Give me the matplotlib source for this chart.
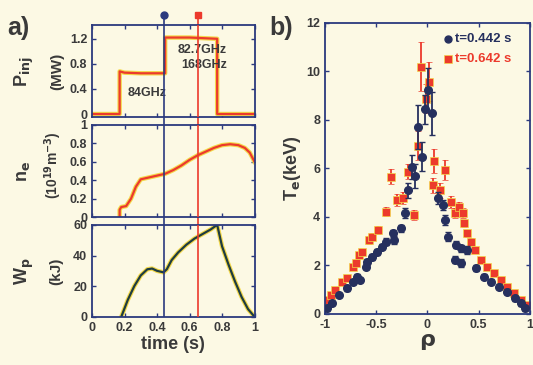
"""Two-panel figure: ECRH time traces (a) and Te profiles (b)."""

import matplotlib
matplotlib.use("Agg")
import matplotlib.pyplot as plt
import matplotlib.transforms as mtransforms
import numpy as np

plt.rcParams["font.family"] = ["Liberation Sans", "DejaVu Sans"]
plt.rcParams["font.weight"] = "bold"

BG = "#fcf9e4"
NAVY = "#2b3a7e"
RED = "#ec3a2c"
YEL = "#f3d84a"
TXT = "#3a3a3a"
DOT = "#26305e"

# ---- panel a data ----
t_pinj = [0.0, 0.17, 0.17, 0.20, 0.30, 0.45, 0.45, 0.60, 0.77, 0.77, 1.0]
p_inj = [0.0, 0.0, 0.68, 0.66, 0.65, 0.65, 1.22, 1.22, 1.20, 0.0, 0.0]

t_ne = [0.17, 0.17, 0.18, 0.21, 0.24, 0.27, 0.30, 0.35, 0.40, 0.45, 0.50,
        0.55, 0.60, 0.65, 0.70, 0.75, 0.80, 0.85, 0.90, 0.94, 0.97, 1.0]
n_e = [0.0, 0.08, 0.11, 0.12, 0.20, 0.33, 0.41, 0.43, 0.45, 0.47, 0.51,
       0.56, 0.62, 0.67, 0.71, 0.75, 0.78, 0.79, 0.78, 0.75, 0.70, 0.60]

t_wp = [0.18, 0.22, 0.26, 0.30, 0.34, 0.37, 0.40, 0.44, 0.46, 0.49, 0.53,
        0.58, 0.63, 0.68, 0.73, 0.77, 0.80, 0.84, 0.88, 0.92, 0.96, 1.0]
w_p = [0.0, 11, 20, 27, 31, 31.5, 30, 29, 31, 37, 42,
       47, 51, 54, 57, 60, 46, 34, 23, 13, 5, 0]

t_marks = [0.445, 0.65]

# ---- panel b data ----
rho_a = [-0.98, -0.93, -0.86, -0.79, -0.73, -0.69, -0.655, -0.605, -0.59, -0.54,
         -0.49, -0.445, -0.41, -0.34, -0.33, -0.26, -0.22, -0.19, -0.155, -0.12,
         -0.09, -0.058, -0.025, 0.01, 0.04, 0.10, 0.15, 0.17, 0.20, 0.265,
         0.28, 0.33, 0.33, 0.39, 0.475, 0.555, 0.62, 0.70, 0.78, 0.86,
         0.91, 0.95]
te_a = [0.23, 0.45, 0.78, 1.06, 1.33, 1.54, 1.40, 1.95, 2.15, 2.36,
        2.56, 2.78, 2.98, 3.33, 3.05, 3.53, 4.15, 5.10, 6.07, 5.70,
        7.72, 6.49, 8.44, 9.24, 8.27, 4.77, 4.50, 3.88, 3.19, 2.23,
        2.85, 2.70, 2.10, 2.64, 1.88, 1.54, 1.33, 1.13, 0.92, 0.65,
        0.44, 0.23]
err_a = [0.1, 0.1, 0.1, 0.1, 0.1, 0.1, 0.1, 0.1, 0.1, 0.12,
         0.12, 0.12, 0.15, 0.15, 0.15, 0.15, 0.2, 0.3, 0.5, 0.5,
         0.9, 0.6, 0.6, 0.9, 0.9, 0.25, 0.2, 0.2, 0.2, 0.15,
         0.15, 0.15, 0.15, 0.15, 0.12, 0.1, 0.1, 0.1, 0.1, 0.1,
         0.1, 0.1]

rho_b = [-0.99, -0.94, -0.90, -0.84, -0.79, -0.73, -0.70, -0.67, -0.64, -0.57,
         -0.54, -0.48, -0.41, -0.36, -0.30, -0.235, -0.19, -0.13, -0.09, -0.064,
         -0.016, 0.016, 0.055, 0.065, 0.12, 0.17, 0.23, 0.265, 0.31, 0.345,
         0.36, 0.39, 0.425, 0.46, 0.52, 0.585, 0.65, 0.72, 0.78, 0.85,
         0.91, 0.97]
te_b = [0.58, 0.78, 0.99, 1.33, 1.47, 1.95, 2.09, 2.43, 2.57, 3.05,
        3.19, 3.46, 4.22, 5.66, 4.70, 4.77, 5.87, 4.08, 6.94, 10.2,
        8.87, 9.58, 5.30, 6.32, 5.10, 5.94, 4.63, 4.15, 4.40, 4.15,
        3.74, 3.33, 2.98, 2.65, 2.23, 1.95, 1.68, 1.40, 1.13, 0.86,
        0.58, 0.37]
err_b = [0.1, 0.1, 0.1, 0.1, 0.1, 0.12, 0.12, 0.12, 0.12, 0.15,
         0.15, 0.15, 0.2, 0.3, 0.25, 0.25, 0.3, 0.2, 0.6, 1.0,
         0.6, 0.8, 0.3, 0.5, 0.3, 0.4, 0.25, 0.2, 0.2, 0.2,
         0.15, 0.15, 0.15, 0.12, 0.12, 0.1, 0.1, 0.1, 0.1, 0.1,
         0.1, 0.1]

labels_b = ["t=0.442 s", "t=0.642 s"]


def style_axis(ax):
    ax.set_facecolor(BG)
    for s in ax.spines.values():
        s.set_color(NAVY)
        s.set_linewidth(1.3)
    ax.tick_params(direction="in", top=True, right=True, colors=NAVY,
                   labelcolor=TXT, labelsize=9, length=3, width=1)
    for lab in ax.get_xticklabels() + ax.get_yticklabels():
        lab.set_fontweight("bold")


def shadow_line(ax, x, y, color):
    ax.plot(x, y, color=YEL, lw=3.2, solid_joinstyle="round")
    ax.plot(x, y, color=color, lw=1.6, solid_joinstyle="round")


fig = plt.figure(figsize=(5.33, 3.65), dpi=100, facecolor=BG)

L, W = 0.1726, 0.305
ax1 = fig.add_axes([L, 0.679, W, 0.2525])
ax2 = fig.add_axes([L, 0.405, W, 0.253])
ax3 = fig.add_axes([L, 0.132, W, 0.252])

shadow_line(ax1, t_pinj, p_inj, RED)
ax1.set_ylim(-0.05, 1.42)
ax1.set_yticks([0, 0.4, 0.8, 1.2])
ax1.set_yticklabels(["0", "0.4", "0.8", "1.2"])
ann = dict(ha="center", va="center", fontsize=9, color=TXT, fontweight="bold")
ax1.text(0.34, 0.34, "84GHz", **ann)
ax1.text(0.68, 1.02, "82.7GHz", **ann)
ax1.text(0.69, 0.78, "168GHz", **ann)

shadow_line(ax2, t_ne, n_e, RED)
ax2.set_ylim(0, 1.0)
ax2.set_yticks([0, 0.2, 0.4, 0.6, 0.8, 1.0])
ax2.set_yticklabels(["0", "0.2", "0.4", "0.6", "0.8", "1"])

shadow_line(ax3, t_wp, w_p, "#1f3d40")
ax3.set_ylim(0, 60)
ax3.set_yticks([0, 20, 40, 60])

for ax in (ax1, ax2, ax3):
    ax.set_xlim(0, 1)
    ax.set_xticks(np.arange(0, 1.01, 0.2))
    style_axis(ax)
    if ax is not ax3:
        ax.tick_params(labelbottom=False)
ax3.set_xticklabels(["0", "0.2", "0.4", "0.6", "0.8", "1"])
for lab in ax3.get_xticklabels():
    lab.set_fontweight("bold")
ax3.set_xlabel("time (s)", fontsize=13, fontweight="bold", color=TXT,
               labelpad=2)

# vertical time markers crossing all three panels
for tm, col, mk in zip(t_marks, [NAVY, RED], ["o", "s"]):
    for ax in (ax1, ax2, ax3):
        ax.axvline(tm, color=col, lw=1.2, zorder=5)
    tr = mtransforms.blended_transform_factory(ax1.transData, fig.transFigure)
    ax1.plot([tm, tm], [0.931, 0.96], color=col, lw=1.2, transform=tr,
             clip_on=False)
    ax1.plot([tm], [0.96], marker=mk, color=col, ms=5, transform=tr,
             clip_on=False)
    for top, bot in ((0.679, 0.658), (0.405, 0.384)):
        ax1.plot([tm, tm], [bot, top], color=col, lw=1.2, transform=tr,
                 clip_on=False)

# y labels of panel a (two rotated lines each)
ylab1 = dict(rotation=90, ha="center", va="center", fontsize=13,
             fontweight="bold", color=TXT)
ylab2 = dict(rotation=90, ha="center", va="center", fontsize=11,
             fontweight="bold", color=TXT)
fig.text(0.045, 0.805, r"P$_{\mathbf{inj}}$", **ylab1)
fig.text(0.108, 0.805, "(MW)", **ylab2)
fig.text(0.045, 0.53, r"n$_{\mathbf{e}}$", **ylab1)
fig.text(0.100, 0.548, r"(10$^{\mathbf{19}}$m$^{\mathbf{-3}}$)",
         rotation=90, ha="center", va="center", fontsize=10,
         fontweight="bold", color=TXT)
fig.text(0.045, 0.258, r"W$_{\mathbf{p}}$", **ylab1)
fig.text(0.106, 0.258, "(kJ)", **ylab2)

fig.text(0.014, 0.905, "a)", fontsize=18, fontweight="bold", color=TXT)
fig.text(0.505, 0.905, "b)", fontsize=18, fontweight="bold", color=TXT)

# ---- panel b ----
axb = fig.add_axes([0.61, 0.14, 0.384, 0.797])
axb.errorbar(rho_b, te_b, yerr=err_b, fmt="s", color=RED, ms=5.5, mec=YEL,
             mew=0.5, elinewidth=1.3, capsize=2, ecolor=RED, zorder=2)
axb.errorbar(rho_a, te_a, yerr=err_a, fmt="o", color=DOT, ms=5.5,
             mec=DOT, elinewidth=1.3, capsize=2, ecolor=DOT, zorder=3)
axb.set_xlim(-1, 1)
axb.set_ylim(0, 12)
axb.set_xticks([-1, -0.5, 0, 0.5, 1])
axb.set_xticklabels(["-1", "-0.5", "0", "0.5", "1"])
axb.set_yticks([0, 2, 4, 6, 8, 10, 12])
style_axis(axb)
axb.set_xlabel(r"$\mathbf{\rho}$", fontsize=16, color=TXT, labelpad=0)
axb.set_ylabel(r"T$_{\mathbf{e}}$(keV)", fontsize=13, fontweight="bold",
               color=TXT, labelpad=2)

axb.plot([0.2], [11.35], "o", color=DOT, ms=5)
axb.text(0.27, 11.35, labels_b[0], va="center", fontsize=9.5, color=DOT,
         fontweight="bold")
axb.plot([0.2], [10.5], "s", color=RED, ms=5.5, mec=YEL, mew=0.5)
axb.text(0.27, 10.5, labels_b[1], va="center", fontsize=9.5, color=RED,
         fontweight="bold")

fig.savefig("out.png", dpi=100, facecolor=BG)
